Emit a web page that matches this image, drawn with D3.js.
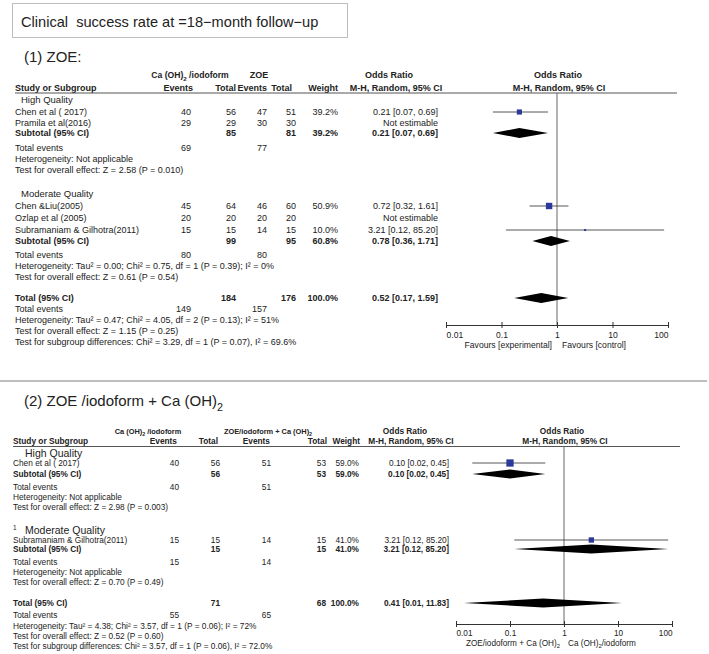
<!DOCTYPE html>
<html><head><meta charset="utf-8">
<script src="https://cdn.jsdelivr.net/npm/d3@7"></script>
<style>
body{margin:0;background:#fff}
svg{display:block}
text{font-family:"Liberation Sans",Arial,Helvetica,sans-serif;fill:#222;white-space:pre}
</style>
</head><body>
<svg id="c" width="709" height="654"></svg>
<script>
// ================= DATA =================
const titleText = "Clinical  success rate at =18\u2212month follow\u2212up";
const axisTicks = [0.01, 0.1, 1, 10, 100];
const axisTickLabels = ["0.01", "0.1", "1", "10", "100"];

// ---- Panel 1: ZOE ----
const p1Title = "(1) ZOE:";
const p1HeaderTop = ["Ca (OH)_2 /iodoform", "ZOE", "Odds Ratio", "Odds Ratio"];
const p1HeaderSub = ["Study or Subgroup", "Events", "Total", "Events", "Total", "Weight", "M-H, Random, 95% CI", "M-H, Random, 95% CI"];
const p1Groups = ["High Quality", "Moderate Quality"];
const p1GroupMarks = ["", ""];
const p1Studies = ["Chen et al ( 2017)", "Pramila et al(2016)", "Chen &Liu(2005)", "Ozlap et al (2005)", "Subramaniam & Gilhotra(2011)"];
const p1EventsA = [40, 29, 45, 20, 15];
const p1TotalA  = [56, 29, 64, 20, 15];
const p1EventsB = [47, 30, 46, 20, 14];
const p1TotalB  = [51, 30, 60, 20, 15];
const p1Weight  = [39.2, null, 50.9, null, 10.0];
const p1OR      = [0.21, null, 0.72, null, 3.21];
const p1Lo      = [0.07, null, 0.32, null, 0.12];
const p1Hi      = [0.69, null, 1.61, null, 85.20];
const p1SubTotalA = [85, 99];
const p1SubTotalB = [81, 95];
const p1SubWeight = [39.2, 60.8];
const p1SubOR = [0.21, 0.78];
const p1SubLo = [0.07, 0.36];
const p1SubHi = [0.69, 1.71];
const p1SubEventsA = [69, 80];
const p1SubEventsB = [77, 80];
const p1SubHet = ["Heterogeneity: Not applicable", "Heterogeneity: Tau\u00b2 = 0.00; Chi\u00b2 = 0.75, df = 1 (P = 0.39); I\u00b2 = 0%"];
const p1SubTest = ["Test for overall effect: Z = 2.58 (P = 0.010)", "Test for overall effect: Z = 0.61 (P = 0.54)"];
const p1TotalN = [184, 176];
const p1TotalWeight = 100.0;
const p1TotalOR = [0.52, 0.17, 1.59];
const p1TotalEvents = [149, 157];
const p1TotalTexts = ["Heterogeneity: Tau\u00b2 = 0.47; Chi\u00b2 = 4.05, df = 2 (P = 0.13); I\u00b2 = 51%",
  "Test for overall effect: Z = 1.15 (P = 0.25)",
  "Test for subgroup differences: Chi\u00b2 = 3.29, df = 1 (P = 0.07), I\u00b2 = 69.6%"];
const p1Favours = ["Favours [experimental]", "Favours [control]"];

// ---- Panel 2: ZOE/iodoform + Ca(OH)2 ----
const p2Title = "(2) ZOE /iodoform + Ca (OH)_2";
const p2HeaderTop = ["Ca (OH)_2 /iodoform", "ZOE/iodoform + Ca (OH)_2", "Odds Ratio", "Odds Ratio"];
const p2HeaderSub = ["Study or Subgroup", "Events", "Total", "Events", "Total", "Weight", "M-H, Random, 95% CI", "M-H, Random, 95% CI"];
const p2Groups = ["High Quality", "Moderate Quality"];
const p2GroupMarks = ["", "1"];
const p2Studies = ["Chen et al ( 2017)", "Subramaniam & Gilhotra(2011)"];
const p2EventsA = [40, 15];
const p2TotalA  = [56, 15];
const p2EventsB = [51, 14];
const p2TotalB  = [53, 15];
const p2Weight  = [59.0, 41.0];
const p2OR      = [0.10, 3.21];
const p2Lo      = [0.02, 0.12];
const p2Hi      = [0.45, 85.20];
const p2SubTotalA = [56, 15];
const p2SubTotalB = [53, 15];
const p2SubWeight = [59.0, 41.0];
const p2SubOR = [0.10, 3.21];
const p2SubLo = [0.02, 0.12];
const p2SubHi = [0.45, 85.20];
const p2SubEventsA = [40, 15];
const p2SubEventsB = [51, 14];
const p2SubHet = ["Heterogeneity: Not applicable", "Heterogeneity: Not applicable"];
const p2SubTest = ["Test for overall effect: Z = 2.98 (P = 0.003)", "Test for overall effect: Z = 0.70 (P = 0.49)"];
const p2TotalN = [71, 68];
const p2TotalWeight = 100.0;
const p2TotalOR = [0.41, 0.014, 11.83];
const p2TotalEvents = [55, 65];
const p2TotalTexts = ["Heterogeneity: Tau\u00b2 = 4.38; Chi\u00b2 = 3.57, df = 1 (P = 0.06); I\u00b2 = 72%",
  "Test for overall effect: Z = 0.52 (P = 0.60)",
  "Test for subgroup differences: Chi\u00b2 = 3.57, df = 1 (P = 0.06), I\u00b2 = 72.0%"];
const p2Favours = ["ZOE/iodoform + Ca (OH)_2", "Ca (OH)_2/iodoform"];

// ================= LAYOUT =================
const L1 = {
  fs: 9, groupFs: 9.5, titleY: 57, titleX: 24,
  hdr1: 75, hdr2: 87.5, line: 93, lineX: [15, 677],
  hdrTopX: [190, 259, 389, 558], hdrTopFs: [8.6, 9, 9, 9],
  hdrSubX: [15, 193, 236, 267, 292, 338, 396, 559],
  nameX: 15, groupX: 21,
  cols: [191, 236, 267, 296, 338, 438],
  groupY: [100, 194], studyY: [112, 123, 206, 218, 230], subY: [133, 241],
  subEvY: [148, 255], subHetY: [159, 266], subTestY: [170, 277],
  totY: 298, totEvY: 309, totTextY: [320, 331, 342],
  plotRange: [446, 668], axisY: 325, tickLabY: 335, favY: 345, favGap: 5,
  axisFs: 8.6, diamondH: 10, sq: [2, 7.4]
};
const L2 = {
  fs: 8.3, groupFs: 10.5, titleY: 401, titleX: 24,
  hdr1: 431, hdr2: 441, line: 446.5, lineX: [13, 680],
  hdrTopX: [148, 268, 405, 562], hdrTopFs: [7.4, 7.4, 8.3, 8.3],
  hdrSubX: [13, 177, 218, 270, 327, 360, 411, 565],
  nameX: 13, groupX: 25,
  cols: [179, 220, 271, 326, 359, 449],
  groupY: [453, 530], studyY: [463, 540], subY: [474, 549],
  subEvY: [487, 562], subHetY: [497, 572], subTestY: [507, 582],
  totY: 603, totEvY: 615, totTextY: [626, 636, 646],
  plotRange: [456, 672], axisY: 624, tickLabY: 633, favY: 643, favGap: 4,
  axisFs: 8.2, diamondH: 9, sq: [2, 7.4]
};

// ================= DRAW =================
const svg = d3.select("#c");
const fmt2 = d3.format(".2f");
const fmtW = w => d3.format(".1f")(w) + "%";
const orLabel = (o, l, h) => `${fmt2(o)} [${fmt2(l)}, ${fmt2(h)}]`;

function rich(t, str, fs) {
  const parts = String(str).split("_2");
  parts.forEach((p, i) => {
    if (i > 0) {
      t.append("tspan").attr("dy", fs * 0.32).attr("font-size", fs * 0.72).text("2");
      t.append("tspan").attr("dy", -fs * 0.32).text(p);
    } else {
      t.append("tspan").text(p);
    }
  });
  return t;
}

// title box
svg.append("rect").attr("x", 12.5).attr("y", 3.5).attr("width", 335).attr("height", 34)
  .attr("fill", "#fff").attr("stroke", "#bdbdbd").attr("stroke-width", 1);
svg.append("text").attr("x", 21).attr("y", 22).attr("dy", "0.35em")
  .attr("font-size", 14.6).text(titleText);

// separator
svg.append("line").attr("x1", 0).attr("x2", 707).attr("y1", 381).attr("y2", 381)
  .attr("stroke", "#a8a8a8").attr("stroke-width", 1.5);

function drawPanel(P, L) {
  const g = svg.append("g");
  const x = d3.scaleLog().domain([0.01, 100]).range(L.plotRange);
  const sq = d3.scaleLinear().domain([10, 60]).range(L.sq);
  const C = L.cols;
  const txt = (xx, y, s, opt = {}) => {
    const f = opt.fs || L.fs;
    const t = g.append("text").attr("x", xx).attr("y", y).attr("dy", "0.35em")
      .attr("font-size", f).attr("text-anchor", opt.anchor || "start")
      .attr("font-weight", opt.bold ? "bold" : "normal");
    return rich(t, s, f);
  };

  // panel title
  txt(L.titleX, L.titleY, P.title, { fs: 15 });

  // headers
  P.headerTop.forEach((h, i) => txt(L.hdrTopX[i], L.hdr1, h, { anchor: "middle", bold: true, fs: L.hdrTopFs[i] }));
  const subAnch = ["start", "end", "end", "end", "end", "end", "middle", "middle"];
  P.headerSub.forEach((h, i) => txt(L.hdrSubX[i], L.hdr2, h, { anchor: subAnch[i], bold: true }));
  g.append("line").attr("x1", L.lineX[0]).attr("x2", L.lineX[1]).attr("y1", L.line).attr("y2", L.line)
    .attr("stroke", "#555").attr("stroke-width", 1);

  // vertical null line
  g.append("line").attr("x1", x(1)).attr("x2", x(1)).attr("y1", L.line).attr("y2", L.axisY)
    .attr("stroke", "#666").attr("stroke-width", 1);

  // group labels
  P.groups.forEach((gr, i) => {
    txt(L.groupX, L.groupY[i], gr, { fs: L.groupFs });
    if (P.groupMarks[i]) txt(L.nameX, L.groupY[i] - 2, P.groupMarks[i], { fs: 6.5 });
  });

  // studies
  P.studies.forEach((s, i) => {
    const y = L.studyY[i];
    txt(L.nameX, y, s);
    txt(C[0], y, P.eA[i], { anchor: "end" });
    txt(C[1], y, P.tA[i], { anchor: "end" });
    txt(C[2], y, P.eB[i], { anchor: "end" });
    txt(C[3], y, P.tB[i], { anchor: "end" });
    if (P.w[i] != null) txt(C[4], y, fmtW(P.w[i]), { anchor: "end" });
    if (P.or[i] != null) {
      txt(C[5], y, orLabel(P.or[i], P.lo[i], P.hi[i]), { anchor: "end" });
      g.append("line").attr("x1", x(P.lo[i])).attr("x2", x(P.hi[i])).attr("y1", y).attr("y2", y)
        .attr("stroke", "#444").attr("stroke-width", 0.9);
      const s2 = sq(P.w[i]);
      g.append("rect").attr("x", x(P.or[i]) - s2 / 2).attr("y", y - s2 / 2)
        .attr("width", s2).attr("height", s2).attr("fill", "#2b3a98");
    } else {
      txt(C[5], y, "Not estimable", { anchor: "end" });
    }
  });

  const diamond = (o, l, h, y) => {
    const hh = L.diamondH / 2;
    g.append("path").attr("d", `M${x(l)},${y}L${x(o)},${y - hh}L${x(h)},${y}L${x(o)},${y + hh}Z`)
      .attr("fill", "#000");
  };

  // subtotals
  P.groups.forEach((gr, i) => {
    const y = L.subY[i];
    txt(L.nameX, y, "Subtotal (95% CI)", { bold: true });
    txt(C[1], y, P.subTA[i], { anchor: "end", bold: true });
    txt(C[3], y, P.subTB[i], { anchor: "end", bold: true });
    txt(C[4], y, fmtW(P.subW[i]), { anchor: "end", bold: true });
    txt(C[5], y, orLabel(P.subOR[i], P.subLo[i], P.subHi[i]), { anchor: "end", bold: true });
    diamond(P.subOR[i], P.subLo[i], P.subHi[i], y);
    txt(L.nameX, L.subEvY[i], "Total events");
    txt(C[0], L.subEvY[i], P.subEA[i], { anchor: "end" });
    txt(C[2], L.subEvY[i], P.subEB[i], { anchor: "end" });
    txt(L.nameX, L.subHetY[i], P.subHet[i]);
    txt(L.nameX, L.subTestY[i], P.subTest[i]);
  });

  // overall
  txt(L.nameX, L.totY, "Total (95% CI)", { bold: true });
  txt(C[1], L.totY, P.totN[0], { anchor: "end", bold: true });
  txt(C[3], L.totY, P.totN[1], { anchor: "end", bold: true });
  txt(C[4], L.totY, fmtW(P.totW), { anchor: "end", bold: true });
  txt(C[5], L.totY, orLabel(P.totOR[0], P.totOR[1], P.totOR[2]), { anchor: "end", bold: true });
  diamond(P.totOR[0], P.totOR[1], P.totOR[2], L.totY);
  txt(L.nameX, L.totEvY, "Total events");
  txt(C[0], L.totEvY, P.totEv[0], { anchor: "end" });
  txt(C[2], L.totEvY, P.totEv[1], { anchor: "end" });
  P.totTexts.forEach((t, i) => txt(L.nameX, L.totTextY[i], t));

  // axis
  const ax = g.append("g").attr("transform", `translate(0,${L.axisY})`)
    .call(d3.axisBottom(x).tickValues(axisTicks).tickFormat((d, i) => axisTickLabels[i]).tickSize(3).tickSizeOuter(0));
  ax.select(".domain").attr("stroke", "#333");
  ax.selectAll(".tick line").attr("y1", -3).attr("y2", 3).attr("stroke", "#333");
  ax.selectAll(".tick text").attr("y", L.tickLabY - L.axisY).attr("dy", "0.35em")
    .attr("font-size", L.axisFs).attr("fill", "#222")
    .attr("font-family", '"Liberation Sans",Arial,sans-serif')
    .attr("text-anchor", (d, i) => i === 0 ? "start" : (i === axisTicks.length - 1 ? "end" : "middle"));
  txt(x(1) - L.favGap, L.favY, P.fav[0], { anchor: "end", fs: L.axisFs });
  txt(x(1) + L.favGap, L.favY, P.fav[1], { anchor: "start", fs: L.axisFs });
}

drawPanel({
  title: p1Title, headerTop: p1HeaderTop, headerSub: p1HeaderSub,
  groups: p1Groups, groupMarks: p1GroupMarks, studies: p1Studies,
  eA: p1EventsA, tA: p1TotalA, eB: p1EventsB, tB: p1TotalB, w: p1Weight,
  or: p1OR, lo: p1Lo, hi: p1Hi,
  subTA: p1SubTotalA, subTB: p1SubTotalB, subW: p1SubWeight, subOR: p1SubOR, subLo: p1SubLo, subHi: p1SubHi,
  subEA: p1SubEventsA, subEB: p1SubEventsB, subHet: p1SubHet, subTest: p1SubTest,
  totN: p1TotalN, totW: p1TotalWeight, totOR: p1TotalOR, totEv: p1TotalEvents, totTexts: p1TotalTexts,
  fav: p1Favours
}, L1);

drawPanel({
  title: p2Title, headerTop: p2HeaderTop, headerSub: p2HeaderSub,
  groups: p2Groups, groupMarks: p2GroupMarks, studies: p2Studies,
  eA: p2EventsA, tA: p2TotalA, eB: p2EventsB, tB: p2TotalB, w: p2Weight,
  or: p2OR, lo: p2Lo, hi: p2Hi,
  subTA: p2SubTotalA, subTB: p2SubTotalB, subW: p2SubWeight, subOR: p2SubOR, subLo: p2SubLo, subHi: p2SubHi,
  subEA: p2SubEventsA, subEB: p2SubEventsB, subHet: p2SubHet, subTest: p2SubTest,
  totN: p2TotalN, totW: p2TotalWeight, totOR: p2TotalOR, totEv: p2TotalEvents, totTexts: p2TotalTexts,
  fav: p2Favours
}, L2);
</script>
</body></html>
